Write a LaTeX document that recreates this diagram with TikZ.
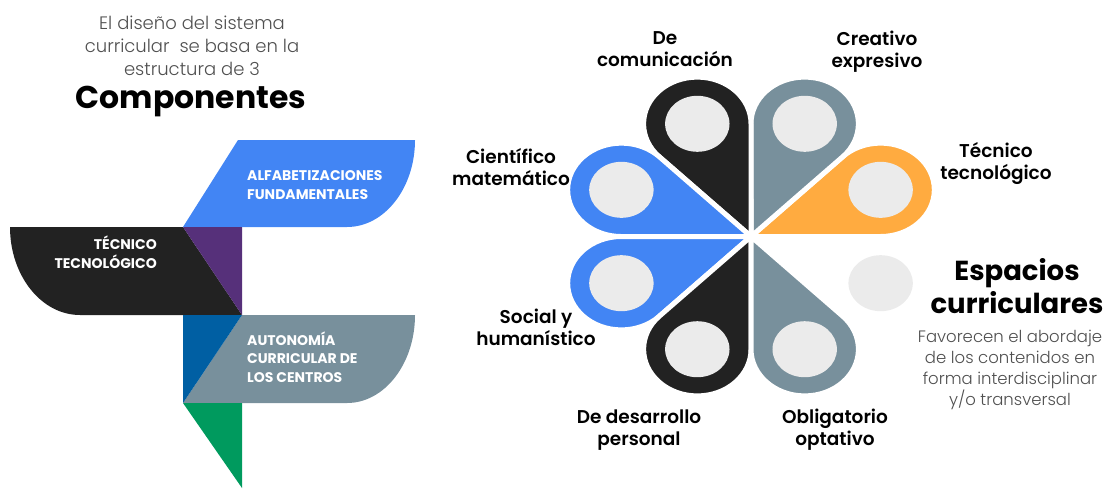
\documentclass[tikz,border=0pt]{standalone}
\usepackage{fontspec}
\setmainfont{Poppins}
\newfontfamily\lightfont{Poppins Light}
\newfontfamily\semifont{Poppins SemiBold}
\usetikzlibrary{positioning}
\usepackage{xcolor}

\definecolor{blueA}{HTML}{4285F4}
\definecolor{blackA}{HTML}{222222}
\definecolor{purpleA}{HTML}{56307A}
\definecolor{navyA}{HTML}{005FA3}
\definecolor{grayA}{HTML}{78909C}
\definecolor{greenA}{HTML}{009A5E}
\definecolor{orangeA}{HTML}{FFAB40}
\definecolor{lightA}{HTML}{EBEBEB}
\definecolor{textA}{HTML}{505050}

\begin{document}
\begin{tikzpicture}[
x=1pt, y=-1pt,
intro/.style={font=\lightfont\fontsize{18}{23}\selectfont, 
text=textA, 
align=center, 
inner sep=0pt},
title/.style={font=\bfseries\fontsize{31.5}{33}\selectfont, 
inner sep=0pt},
comp/.style={font=\bfseries\fontsize{14}{18.5}\selectfont, 
text=white, 
inner sep=0pt},
area/.style={font=\semifont\fontsize{18.5}{22}\selectfont, 
align=center, 
inner sep=0pt},
petal/.style={draw=white, 
line width=5pt}
]
\useasboundingbox (0,0) rectangle (1118,488);

% componentes
\fill[blueA] (238,140) -- (415,140) arc[start angle=0, end angle=90, x radius=68, y radius=87] -- (183,227) -- cycle;
\fill[blackA] (10,227) -- (183,227) -- (242,315) -- (80,315) arc[start angle=90, end angle=180, x radius=70, y radius=88] -- cycle;
\fill[purpleA] (183,227) -- (242,227) -- (242,315) -- cycle;
\fill[grayA] (242,315) -- (415,315) arc[start angle=0, end angle=90, x radius=68, y radius=88] -- (183,403) -- cycle;
\fill[navyA] (183,315) -- (242,315) -- (183,403) -- cycle;
\fill[greenA] (183,403) -- (242,403) -- (242,488) -- cycle;

\node[intro] (diseno) at (192,46) {El diseño del sistema\\curricular\ \ se basa en la\\estructura de 3};
\node[title] (componentes) at (191,102) {Componentes};
\node[comp, anchor=west, align=left] (alfa) at (247,185) {ALFABETIZACIONES\\FUNDAMENTALES};
\node[comp, anchor=east, align=right] (tecnico) at (157,252) {TÉCNICO\\TECNOLÓGICO};
\node[comp, anchor=west, align=left] (autonomia) at (247,357) {AUTONOMÍA\\CURRICULAR DE\\LOS CENTROS};

% espacios curriculares
\begin{scope}[shift={(751,236.5)}, xscale=1.15, yscale=-1]
\foreach \ang/\col in {22.5/orangeA, 67.5/grayA, 112.5/blackA, 157.5/blueA, 202.5/blueA, 247.5/blackA, 292.5/grayA}
  \filldraw[petal, fill=\col] (0,0) -- ({\ang-22.5}:112.7) arc[start angle={\ang-112.5}, delta angle=225, radius=46.7] -- cycle;
\foreach \ang in {22.5,67.5,...,337.5}
  \fill[lightA] (\ang:122) circle[radius=28];
\end{scope}

\node[area] (comunicacion) at (665,49) {De\\comunicación};
\node[area] (creativo) at (877,52) {Creativo\\expresivo};
\node[area] (cientifico) at (511,167) {Científico\\matemático};
\node[area] (tecno) at (996,163) {Técnico\\tecnológico};
\node[area] (social) at (536,327) {Social y\\humanístico};
\node[area] (desarrollo) at (639,430) {De desarrollo\\personal};
\node[area] (obligatorio) at (835,430) {Obligatorio\\optativo};

\node[title, font=\bfseries\fontsize{27.5}{33}\selectfont, align=center] (espacios) at (1017,286.5) {Espacios\\curriculares};
\node[intro, below=16pt of espacios, xshift=-7pt, font=\lightfont\fontsize{16.5}{21}\selectfont] (favorecen) {Favorecen el abordaje\\de los contenidos en\\forma interdisciplinar\\y/o transversal};

\end{tikzpicture}
\end{document}
